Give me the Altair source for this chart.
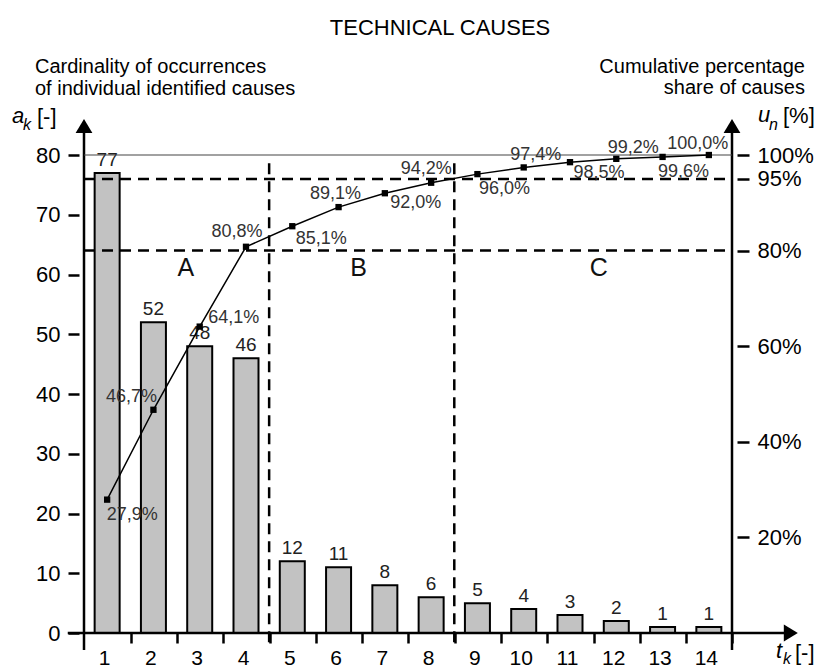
import altair as alt
import pandas as pd

# Pareto analysis of technical causes
causes = list(range(1, 15))
occurrences = [77, 52, 48, 46, 12, 11, 8, 6, 5, 4, 3, 2, 1, 1]
cumulative_pct = [27.9, 46.7, 64.1, 80.8, 85.1, 89.1, 92.0, 94.2,
                  96.0, 97.4, 98.5, 99.2, 99.6, 100.0]

left_ticks = [0, 10, 20, 30, 40, 50, 60, 70, 80]
right_ticks = [20, 40, 60, 80, 95, 100]
pareto_limits = [80, 95]          # dashed horizontal limits, %
group_bounds = [4.5, 8.5]         # dashed vertical limits between groups
groups = ["A", "B", "C"]

FONT = "Liberation Sans"
W, H = 658, 478

df = pd.DataFrame({"cause": causes, "count": occurrences, "cum": cumulative_pct})
df["pct_label"] = [f"{v:.1f}".replace(".", ",") + "%" for v in cumulative_pct]

x_scale = alt.Scale(domain=[0.5, 14.5], nice=False, zero=False)
y_scale = alt.Scale(domain=[0, 80], nice=False, zero=True)
p_scale = alt.Scale(domain=[0, 100], nice=False, zero=True)

common_axis = dict(title=None, domain=False, grid=False, tickColor="black",
                   tickWidth=2.5, labelFont=FONT, labelFontSize=22,
                   labelColor="black", labelOverlap=False, labelFlush=False)

x_axis = alt.Axis(values=causes, tickSize=10, tickOffset=23.5, labelOffset=-26.5,
                  labelPadding=4, **{**common_axis, "labelFontSize": 21})
y_axis = alt.Axis(orient="left", values=left_ticks, tickSize=11, labelPadding=8, **common_axis)
p_axis = alt.Axis(orient="right", values=right_ticks, tickSize=12, labelPadding=8,
                  labelExpr="datum.value + '%'", **common_axis)


# every layer carries the same scale and axis definition so they merge cleanly
def X(field):
    return alt.X(field, type="quantitative", scale=x_scale, axis=x_axis)


def Y(field):
    return alt.Y(field, type="quantitative", scale=y_scale, axis=y_axis)


def P(field):
    return alt.Y(field, type="quantitative", scale=p_scale, axis=p_axis)


def caption(text, x, y, size, align="left", italic=False, color="black"):
    return alt.Chart(pd.DataFrame({"t": [text]})).mark_text(
        align=align, baseline="alphabetic", font=FONT, fontSize=size,
        fontStyle="italic" if italic else "normal", color=color
    ).encode(x=alt.value(x), y=alt.value(y), text="t:N")


# ---- count scale (left) ----
bars = alt.Chart(df).mark_bar(size=25, fill="#c2c2c2", stroke="black", strokeWidth=2).encode(
    x=X("cause"), y=Y("count")
)

bar_labels = alt.Chart(df).mark_text(
    dy=-13, font=FONT, fontSize=19, color="#222", baseline="middle"
).encode(x=X("cause"), y=Y("count"), text="count:Q")

# axis lines running past the plotted range, ending in arrowheads
frame = pd.DataFrame({
    "x": [0.5, 14.5, 0.149],
    "x2": [0.5, 14.5, 15.65],
    "y": [-2.85, -2.85, 0],
    "y2": [83.8, 83.8, 0],
})
frame_lines = alt.Chart(frame).mark_rule(color="black", strokeWidth=2.5).encode(
    x=X("x"), x2="x2", y=Y("y"), y2="y2"
)

up_arrows = alt.Chart(pd.DataFrame({"x": [0.5, 14.5], "y": [83.7, 83.7]})).mark_point(
    shape="M0,-1L0.6,0L-0.6,0Z", size=784, filled=True, color="black", opacity=1, strokeWidth=0
).encode(x=X("x"), y=Y("y"))

right_arrow = alt.Chart(pd.DataFrame({"x": [15.62], "y": [0]})).mark_point(
    shape="M1,0L0,-0.6L0,0.6Z", size=784, filled=True, color="black", opacity=1, strokeWidth=0
).encode(x=X("x"), y=Y("y"))

zone_letters = alt.Chart(pd.DataFrame({
    "g": groups, "x": [2.70, 6.43, 11.62], "y": [61.1, 61.1, 61.1]
})).mark_text(font=FONT, fontSize=25, color="#111", baseline="middle").encode(
    x=X("x"), y=Y("y"), text="g:N"
)

left = alt.layer(bars, bar_labels, frame_lines, up_arrows, right_arrow, zone_letters)

# ---- cumulative percentage scale (right) ----
top_line = alt.Chart(pd.DataFrame({"x": [0.5], "x2": [14.5], "y": [100]})).mark_rule(
    color="#444", strokeWidth=1.2
).encode(x=X("x"), x2="x2", y=P("y"))

h_limits = alt.Chart(pd.DataFrame({"y": pareto_limits, "x": [0.5, 0.5], "x2": [14.5, 14.5]})).mark_rule(
    color="black", strokeWidth=2.5, strokeDash=[11, 7]
).encode(x=X("x"), x2="x2", y=P("y"))

v_limits = alt.Chart(pd.DataFrame({"x": group_bounds, "y": [98.3, 98.3], "y2": [-2.1, -2.1]})).mark_rule(
    color="black", strokeWidth=2.5, strokeDash=[11, 7]
).encode(x=X("x"), y=P("y"), y2="y2")

cum_line = alt.Chart(df).mark_line(color="black", strokeWidth=1.5).encode(
    x=X("cause"), y=P("cum")
)
cum_points = alt.Chart(df).mark_square(size=40, color="black", opacity=1).encode(
    x=X("cause"), y=P("cum")
)

# placement of each cumulative label around its marker (dx, dy in px)
label_offsets = {
    1: (25, 15), 2: (-22, -13), 3: (34, -9), 4: (-9, -15),
    5: (29, 13), 6: (-3, -13), 7: (31, 10), 8: (-5, -14),
    9: (27, 15), 10: (12, -12), 11: (29, 11), 12: (17, -11),
    13: (21, 15), 14: (-11, -11),
}
pct_labels = [
    alt.Chart(df).transform_filter(alt.datum.cause == k).mark_text(
        dx=dx, dy=dy, font=FONT, fontSize=18, color="#333", baseline="middle"
    ).encode(x=X("cause"), y=P("cum"), text="pct_label:N")
    for k, (dx, dy) in label_offsets.items()
]

texts = [
    caption("TECHNICAL CAUSES", 361, -120, 22, align="center"),
    caption("Cardinality of occurrences", -44, -82, 20),
    caption("of individual identified causes", -44, -60, 20),
    caption("Cumulative percentage", 726, -82, 20, align="right"),
    caption("share of causes", 726, -61, 20, align="right"),
    caption("a", -67, -32, 22, italic=True),
    caption("k", -56, -25, 16, italic=True),
    caption("[-]", -42, -31, 22),
    caption("u", 679, -33, 22, italic=True),
    caption("n", 690, -25, 16, italic=True),
    caption("[%]", 704, -32, 22),
    caption("t", 697, 503, 22, italic=True),
    caption("k", 704, 509, 16, italic=True),
    caption("[-]", 716, 505, 22),
]

right = alt.layer(top_line, h_limits, v_limits, cum_line, cum_points, *pct_labels, *texts)

chart = alt.layer(left, right).resolve_scale(y="independent").properties(
    width=W, height=H,
    autosize=alt.AutoSizeParams(type="none"),
    padding={"left": 79, "top": 155, "right": 84, "bottom": 36},
    background="white",
).configure_view(stroke=None)

chart.save("out.html", embed_options={"renderer": "svg", "actions": False})
